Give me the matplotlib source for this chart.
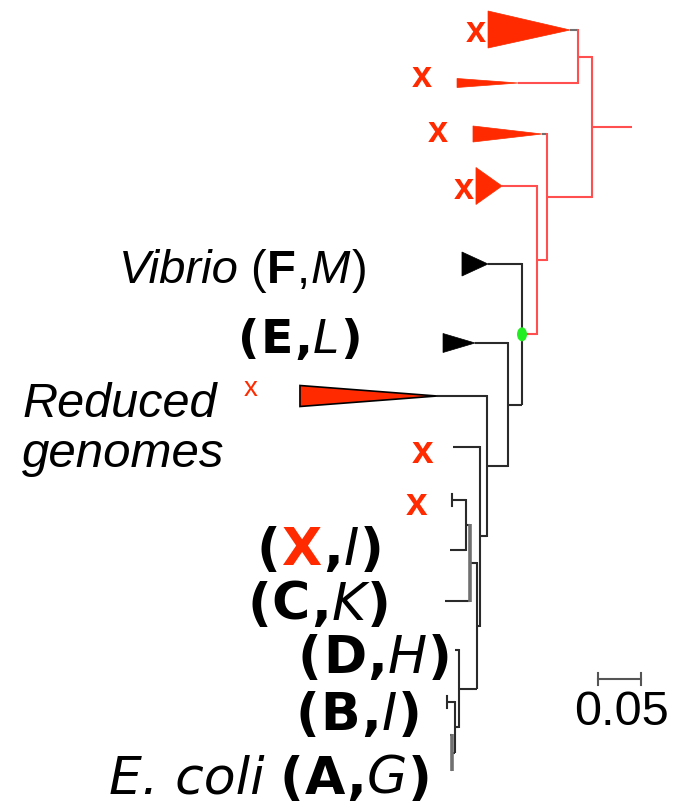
import matplotlib
matplotlib.use("Agg")
import matplotlib.pyplot as plt
from matplotlib.patches import Polygon, Ellipse

# ---------------- data ----------------
# tree nodes: name, parent, depth from root (substitutions/site)
node_names = ["R", "N1", "N2", "T1", "T2", "N3", "T3", "N4", "T4", "G", "V", "N5", "E",
              "N6", "RG", "N7", "L1", "N8", "N9", "N10", "LX1", "LX2", "LC", "N12", "LD",
              "N13", "LB", "N14", "LA1", "LA2"]
node_parent = [None, "R", "N1", "N2", "N2", "N1", "N3", "N3", "N4", "N4", "G", "G", "N5",
               "N5", "N6", "N6", "N7", "N7", "N8", "N9", "N10", "N10", "N9", "N8", "N12",
               "N12", "N13", "N13", "N14", "N14"]
node_depth = [0.0, 0.0468, 0.0632, 0.0726, 0.1335, 0.0995, 0.1054, 0.1112, 0.1522, 0.1288,
              0.1686, 0.1452, 0.1838, 0.1698, 0.2283, 0.1780, 0.2096, 0.1815, 0.1897, 0.1944,
              0.2108, 0.2131, 0.2190, 0.2026, 0.2073, 0.2073, 0.2166, 0.2108, 0.2131, 0.2119]

# collapsed clades (triangles): name, depth of the far edge
clade_names = ["T1", "T2", "T3", "T4", "V", "E", "RG"]
clade_base_depth = [0.1686, 0.2049, 0.1862, 0.1827, 0.1991, 0.2213, 0.3888]
red_clades = ["T1", "T2", "T3", "T4", "RG"]
red_nodes = ["N1", "N2", "T2", "N3", "N4", "T4", "G"]       # red branches
grey_tip_nodes = ["T1", "T3"]
tick_leaves = ["LX1", "LB"]
scale_value = 0.05
scale_label = "0.05"

# ---------------- layout ----------------
W, H = 677, 806
PX_PER_UNIT = 854.0
ROOT_PX = 632.0
leaf_y = {"T1": 30, "T2": 83, "T3": 134, "T4": 186, "V": 264, "E": 343, "RG": 396,
          "L1": 447, "LX1": 500, "LX2": 550, "LC": 601, "LD": 650, "LB": 702,
          "LA1": 735, "LA2": 770}
clade_half = {"T1": (19, 18), "T2": (4.5, 4.5), "T3": (8, 8), "T4": (18.5, 18.5),
              "V": (12, 12), "E": (9.5, 9.5), "RG": (10.5, 10.5)}
grey_vert_nodes = ["N9", "N14"]

RED_LINE = "#ff4f4f"
RED_FILL = "#ff2a00"
BLACK = "#2a2a2a"
GREY = "#707070"

fig = plt.figure(figsize=(W / 100, H / 100), dpi=100)
ax = fig.add_axes([0, 0, 1, 1])
ax.set_xlim(ROOT_PX / PX_PER_UNIT, -(W - ROOT_PX) / PX_PER_UNIT)
ax.set_ylim(H, 0)
ax.axis("off")

depth = dict(zip(node_names, node_depth))
parent = dict(zip(node_names, node_parent))
children = {n: [] for n in node_names}
for n, p in zip(node_names, node_parent):
    if p is not None:
        children[p].append(n)

ypos = {}
def layout(n):
    if not children[n]:
        ypos[n] = leaf_y[n]
    else:
        ys = [layout(c) for c in children[n]]
        ypos[n] = (min(ys) + max(ys)) / 2.0
    return ypos[n]
layout("R")

# branches
for n in node_names:
    p = parent[n]
    if p is None:
        continue
    if n in grey_tip_nodes:
        col = GREY
    elif n in red_nodes or p == "R":
        col = RED_LINE
    else:
        col = BLACK
    ax.plot([depth[p], depth[n]], [ypos[n], ypos[n]], color=col, lw=1.5,
            solid_capstyle="butt", zorder=2)
# verticals
for n in node_names:
    ch = children[n]
    if len(ch) < 2:
        continue
    ys = [ypos[c] for c in ch]
    col = RED_LINE if n in red_nodes and n != "G" else BLACK
    lw = 1.5
    if n in grey_vert_nodes:
        col, lw = GREY, 2.6
    ax.plot([depth[n], depth[n]], [min(ys) - 0.7, max(ys) + 0.7], color=col, lw=lw,
            solid_capstyle="butt", zorder=2)

# tiny collapsed tips
for n in tick_leaves:
    ax.plot([depth[n], depth[n]], [ypos[n] - 6, ypos[n] + 6], color=BLACK, lw=1.5, zorder=2)

# triangles
for n, bd in zip(clade_names, clade_base_depth):
    up, dn = clade_half[n]
    y = ypos[n]
    pts = [(depth[n], y), (bd, y - up), (bd, y + dn)]
    if n == "RG":
        fc, ec, lw = RED_FILL, "black", 1.2
    elif n in red_clades:
        fc, ec, lw = RED_FILL, RED_FILL, 0.5
    else:
        fc, ec, lw = "black", "black", 0.5
    ax.add_patch(Polygon(pts, closed=True, facecolor=fc, edgecolor=ec, lw=lw, zorder=3))

# green node
ax.add_patch(Ellipse((depth["G"], ypos["G"]), 10 / PX_PER_UNIT, 14, facecolor="#22ee22",
                     edgecolor="none", zorder=4))

# scale bar
sb_right = -9 / PX_PER_UNIT
sb_y = 679
ax.plot([sb_right, sb_right + scale_value], [sb_y, sb_y], color="#555555", lw=1.5)
for xx in (sb_right, sb_right + scale_value):
    ax.plot([xx, xx], [sb_y - 6, sb_y + 6], color="#555555", lw=1.5)

# ---------------- text overlay ----------------
tx = fig.add_axes([0, 0, 1, 1])
tx.set_xlim(0, W)
tx.set_ylim(H, 0)
tx.axis("off")
tx.patch.set_alpha(0)

renderer = fig.canvas.get_renderer()

LIB = "Liberation Sans"
DJ = "DejaVu Sans"

def rich(x, y, pieces, ha="right"):
    objs = []
    for s, kw in pieces:
        if s == " ":
            objs.append(None)
            continue
        t = tx.text(0, y, s, va="baseline", ha="left", **kw)
        objs.append(t)
    widths = []
    for (s, kw), t in zip(pieces, objs):
        if t is None:
            widths.append(kw.get("gap", 12))
        else:
            widths.append(t.get_window_extent(renderer).width + kw.get("pad", 1))
    total = sum(widths)
    x0 = x - total if ha == "right" else x
    for t, w in zip(objs, widths):
        if t is not None:
            t.set_x(x0)
        x0 += w

def lib(style="normal", weight="normal", size=34, color="black"):
    return dict(family=LIB, style=style, weight=weight, fontsize=size, color=color)

def dj(style="normal", weight="normal", size=37.5, color="black"):
    return dict(family=DJ, style=style, weight=weight, fontsize=size, color=color)

rich(368, 283, [("Vibrio", lib("italic")), (" ", {"gap": 11}), ("(", lib()),
                ("F", lib(weight="bold")), (",", lib()), ("M", lib("italic")), (")", lib())])
rich(363, 353, [("(", dj(weight="bold", size=34)), ("E", dj(weight="bold", size=34)),
                (",", dj(weight="bold", size=34)), ("L", dj("oblique", size=34)),
                (")", dj(weight="bold", size=34))])
tx.text(22, 417, "Reduced", family=LIB, style="italic", fontsize=35, va="baseline")
tx.text(22, 467, "genomes", family=LIB, style="italic", fontsize=35.5, va="baseline")

bottom_labels = [("X", "I", 385, 565, RED_FILL), ("C", "K", 392, 620, "black"),
                 ("D", "H", 453, 673, "black"), ("B", "I", 423, 730, "black")]
for a, b, xr, yb, ca in bottom_labels:
    rich(xr, yb, [("(", dj(weight="bold")), (a, dj(weight="bold", color=ca)),
                  (",", dj(weight="bold")), (b, dj("oblique")), (")", dj(weight="bold"))])
rich(433, 794, [("E. coli", dj("oblique")), (" ", {"gap": 14}), ("(", dj(weight="bold")),
                ("A", dj(weight="bold")), (",", dj(weight="bold")), ("G", dj("oblique")),
                (")", dj(weight="bold"))])

# red x markers (lost genes)
x_marks = [(476, 33, 26), (422, 78, 26), (438, 133, 26), (464, 190, 26), (251, 389, 20),
           (423, 453, 28), (417, 505, 28)]
for cx, cy, fs in x_marks:
    xh = fs * 100 / 72 * 0.52
    tx.text(cx, cy + xh / 2, "x", family=[LIB], weight="bold" if fs > 21 else "normal",
            fontsize=fs, color=RED_FILL, ha="center", va="baseline")

tx.text(621, 725, scale_label, family=LIB, fontsize=35, ha="center", va="baseline")

fig.savefig("out.png", dpi=100)
